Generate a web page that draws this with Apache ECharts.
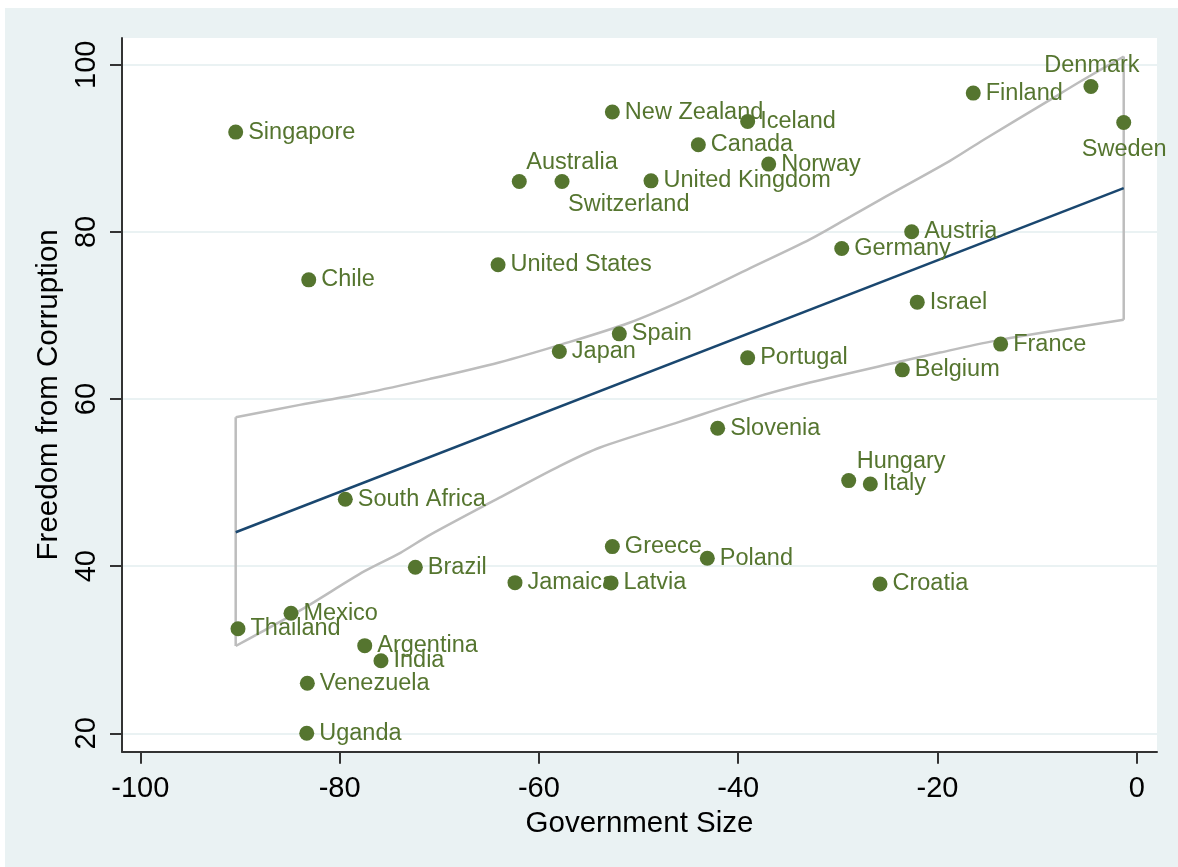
<!DOCTYPE html>
<html>
<head>
<meta charset="utf-8">
<script src="https://cdn.jsdelivr.net/npm/echarts@6/dist/echarts.min.js"></script>
<style>
  html, body { margin: 0; padding: 0; background: #ffffff; }
  #wrap { position: relative; width: 1178px; height: 867px; background: #ffffff; }
  #bg { position: absolute; left: 5px; top: 8px; width: 1173px; height: 859px; background: #eaf2f3; }
  #chart { position: absolute; left: 0; top: 0; width: 1178px; height: 867px; }
</style>
</head>
<body>
<div id="wrap"><div id="bg"></div><div id="chart"></div></div>
<script>
// ---- data ----
const countries = ['Singapore','Chile','South Africa','Mexico','Thailand','Argentina','India','Venezuela','Uganda','Brazil',
  'Jamaica','Latvia','Greece','Poland','United States','Japan','Spain','Portugal','Slovenia','Australia',
  'Switzerland','New Zealand','United Kingdom','Canada','Iceland','Norway','Germany','Austria','Israel','Belgium',
  'France','Hungary','Italy','Croatia','Finland','Denmark','Sweden'];
const govSize = [-90.43,-83.10,-79.43,-84.88,-90.20,-77.48,-75.85,-83.24,-83.30,-72.40,
  -62.40,-52.76,-52.63,-43.10,-64.10,-57.95,-51.93,-39.05,-42.06,-61.97,
  -57.68,-52.63,-48.75,-44.00,-39.05,-36.94,-29.61,-22.59,-22.03,-23.53,
  -13.66,-28.91,-26.74,-25.77,-16.41,-4.60,-1.31];
const freedom = [91.94,74.26,48.01,34.37,32.52,30.49,28.69,25.99,20.00,39.87,
  38.03,38.00,42.34,40.95,76.06,65.68,67.80,64.93,56.51,86.03,
  86.03,94.34,86.11,90.42,93.21,88.11,78.01,80.01,71.59,63.49,
  66.57,50.24,49.84,37.87,96.61,97.40,93.09];

// fitted line end points
const fitX = [-90.43, -1.31];
const fitY = [44.06, 85.24];

// confidence band
const ciUpperX = [-90.43,-84.0,-77.5,-70.93,-64.0,-57.88,-51.0,-44.83,-38.8,-32.8,-28.78,-25.77,-18.75,-15.4,-8.71,-5.37,-1.31];
const ciUpperY = [57.83,59.3,60.7,62.41,64.38,66.48,69.1,72.2,75.66,79.1,81.8,83.84,88.5,91.0,95.8,98.2,100.99];
const ciLowerX = [-90.43,-84.0,-77.5,-73.9,-70.93,-64.0,-57.88,-53.86,-45.83,-38.8,-32.8,-23.74,-19.75,-13.73,-1.31];
const ciLowerY = [30.45,34.68,39.4,41.6,43.74,48.16,52.0,54.2,57.30,60.02,61.97,64.49,65.56,67.08,69.48];

const xTicks = [-100,-80,-60,-40,-20,0];
const yTicks = [20,40,60,80,100];

// ---- presentation ----
const GREEN = '#55752f';
const CI_GRAY = '#bdbdbd';
const FONT = "'Liberation Sans', Arial, Helvetica, sans-serif";
const labelPlacement = {
  'Australia':   {position:[14.5,-11.5], align:'left', verticalAlign:'middle'},
  'Switzerland': {position:[13.5,30.5], align:'left', verticalAlign:'middle'},
  'Hungary':     {position:[15.5,-11.5], align:'left', verticalAlign:'middle'},
  'Denmark':     {position:[8.5,-13], align:'center', verticalAlign:'middle'},
  'Sweden':      {position:[8,34.5], align:'center', verticalAlign:'middle'}
};

const scatterData = countries.map((c, i) => {
  const item = { name: c, value: [govSize[i], freedom[i]] };
  if (labelPlacement[c]) item.label = labelPlacement[c];
  return item;
});

const upperCurve = ciUpperX.map((x, i) => [x, ciUpperY[i]]);
const lowerCurve = ciLowerX.map((x, i) => [x, ciLowerY[i]]);
const leftEdge = [[ciUpperX[0], ciUpperY[0]], [ciLowerX[0], ciLowerY[0]]];
const rightEdge = [[ciUpperX[ciUpperX.length - 1], ciUpperY[ciUpperY.length - 1]],
                   [ciLowerX[ciLowerX.length - 1], ciLowerY[ciLowerY.length - 1]]];
const fitLine = fitX.map((x, i) => [x, fitY[i]]);

function ciSeries(data, smooth) {
  return {
    type: 'line', data: data, showSymbol: false, symbol: 'none', smooth: smooth,
    lineStyle: { color: CI_GRAY, width: 2.5 }, z: 2, silent: true
  };
}

const chart = echarts.init(document.getElementById('chart'), null, {renderer: 'canvas'});
const axisLineStyle = { color: '#333333', width: 2 };
chart.setOption({
  backgroundColor: 'transparent',
  animation: false,
  textStyle: { fontFamily: FONT },
  grid: { left: 122, top: 38, right: 21, bottom: 115.3, show: true, backgroundColor: '#ffffff', borderWidth: 0 },
  xAxis: {
    type: 'value', min: -101.84, max: 2.03,
    axisLine: { show: true, onZero: false, lineStyle: axisLineStyle },
    axisTick: { show: true, length: 12, lineStyle: axisLineStyle, customValues: xTicks },
    axisLabel: { customValues: xTicks, fontSize: 29, color: '#000', margin: 23, fontFamily: FONT },
    splitLine: { show: false },
    name: 'Government Size', nameLocation: 'middle', nameGap: 47,
    nameTextStyle: { fontSize: 29.5, color: '#000', fontFamily: FONT }
  },
  yAxis: {
    type: 'value', min: 17.8, max: 103.2,
    axisLine: { show: true, onZero: false, lineStyle: axisLineStyle },
    axisTick: { show: true, length: 12, lineStyle: axisLineStyle, customValues: yTicks },
    axisLabel: { customValues: yTicks, fontSize: 29, color: '#000', margin: 21, rotate: 90, fontFamily: FONT },
    splitLine: { show: true, lineStyle: { color: '#eaf2f3', width: 2 } },
    name: 'Freedom from Corruption', nameLocation: 'middle', nameGap: 42,
    nameTextStyle: { fontSize: 29.5, color: '#000', fontFamily: FONT }
  },
  series: [
    ciSeries(upperCurve, 0.3),
    ciSeries(lowerCurve, 0.3),
    ciSeries(leftEdge, false),
    ciSeries(rightEdge, false),
    {
      type: 'line', data: fitLine, showSymbol: false, symbol: 'none',
      lineStyle: { color: '#1a476f', width: 2.5 }, z: 3, silent: true
    },
    {
      type: 'scatter', data: scatterData, symbol: 'circle', symbolSize: 15,
      itemStyle: { color: GREEN, opacity: 1 }, z: 4,
      label: { show: true, position: 'right', distance: 5, formatter: '{b}', color: GREEN, fontSize: 23.5, fontFamily: FONT },
      labelLayout: { hideOverlap: false }
    }
  ]
});
</script>
</body>
</html>
